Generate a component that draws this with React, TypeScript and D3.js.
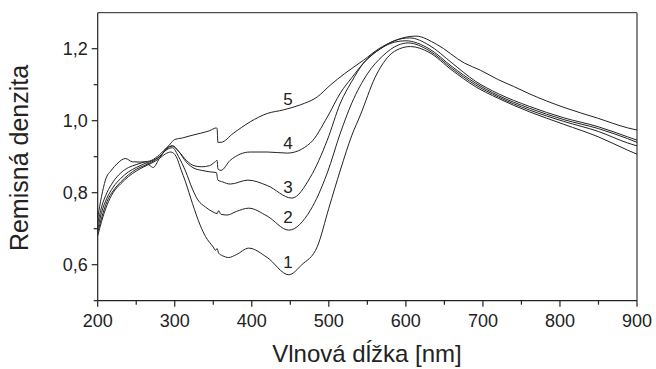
import React from "react";
import * as d3 from "d3";

const xTicks = [200, 300, 400, 500, 600, 700, 800, 900];
const xMinorTicks = [250, 350, 450, 550, 650, 750, 850];
const yTicks = [0.6, 0.8, 1.0, 1.2];
const yMinorTicks = [0.5, 0.7, 0.9, 1.1];
const yTickLabels = ["0,6", "0,8", "1,0", "1,2"];

const wl1 = [200, 205, 212, 220, 230, 240, 250, 260, 270, 280, 288, 295, 302, 308, 314, 323, 333, 340, 350, 353, 355, 357, 362, 370, 380, 396, 420, 448, 465, 485, 500, 515, 530, 541, 560, 578, 592, 606, 630, 660, 690, 720, 760, 805, 850, 888, 900];
const val1 = [0.68, 0.72, 0.765, 0.8, 0.825, 0.845, 0.86, 0.872, 0.882, 0.895, 0.908, 0.913, 0.9, 0.865, 0.83, 0.77, 0.71, 0.678, 0.649, 0.64, 0.645, 0.632, 0.625, 0.62, 0.628, 0.646, 0.62, 0.572, 0.6, 0.65, 0.757, 0.863, 0.96, 1.016, 1.12, 1.18, 1.2, 1.206, 1.19, 1.14, 1.095, 1.062, 1.025, 0.99, 0.955, 0.918, 0.907];

const wl2 = [200, 205, 212, 220, 230, 240, 250, 260, 270, 280, 290, 297, 305, 314, 323, 330, 340, 350, 355, 357, 360, 368, 380, 396, 420, 448, 476, 498, 515, 530, 550, 570, 590, 603, 630, 660, 690, 720, 760, 805, 850, 888, 900];
const val2 = [0.69, 0.73, 0.775, 0.805, 0.83, 0.85, 0.865, 0.875, 0.885, 0.9, 0.92, 0.925, 0.9, 0.86, 0.81, 0.78, 0.76, 0.746, 0.742, 0.75, 0.74, 0.738, 0.748, 0.757, 0.735, 0.696, 0.751, 0.855, 0.966, 1.05, 1.13, 1.18, 1.21, 1.216, 1.195, 1.145, 1.1, 1.066, 1.03, 0.998, 0.97, 0.938, 0.93];

const wl3 = [200, 205, 212, 220, 230, 240, 250, 260, 270, 280, 290, 297, 305, 315, 325, 335, 345, 354, 356, 362, 372, 395, 420, 452, 476, 498, 515, 530, 545, 567, 585, 600, 630, 660, 690, 720, 760, 805, 850, 888, 900];
const val3 = [0.7, 0.745, 0.785, 0.815, 0.84, 0.858, 0.87, 0.88, 0.888, 0.9, 0.922, 0.93, 0.915, 0.885, 0.868, 0.862, 0.858, 0.856, 0.835, 0.83, 0.824, 0.835, 0.82, 0.785, 0.843, 0.946, 1.049, 1.11, 1.16, 1.2, 1.218, 1.222, 1.2, 1.15, 1.105, 1.07, 1.035, 1.003, 0.978, 0.95, 0.94];

const wl4 = [200, 205, 212, 220, 230, 240, 250, 260, 270, 280, 290, 297, 305, 315, 325, 335, 345, 352, 355, 356, 360, 372, 398, 420, 446, 476, 498, 515, 530, 545, 567, 585, 605, 630, 660, 690, 720, 760, 805, 850, 888, 900];
const val4 = [0.715, 0.76, 0.8, 0.83, 0.855, 0.87, 0.878, 0.885, 0.89, 0.905, 0.925, 0.93, 0.915, 0.89, 0.875, 0.872, 0.875, 0.885, 0.89, 0.866, 0.862, 0.89, 0.913, 0.913, 0.91, 0.938, 1.01, 1.077, 1.12, 1.16, 1.2, 1.222, 1.23, 1.21, 1.16, 1.11, 1.075, 1.04, 1.008, 0.983, 0.955, 0.946];

const wl5 = [200, 205, 210, 218, 225, 236, 245, 255, 262, 268, 272, 280, 288, 294, 300, 310, 320, 333, 345, 354, 355, 356, 360, 376, 398, 420, 441, 463, 485, 502, 520, 545, 565, 583, 600, 613, 640, 676, 697, 719, 740, 760, 805, 849, 888, 900];
const val5 = [0.73, 0.79, 0.835, 0.863, 0.88, 0.895, 0.886, 0.885, 0.886, 0.875, 0.87, 0.895, 0.92, 0.935, 0.948, 0.952, 0.958, 0.965, 0.972, 0.98, 0.978, 0.94, 0.94, 0.965, 0.997, 1.02, 1.03, 1.044, 1.066, 1.099, 1.13, 1.168, 1.2, 1.22, 1.232, 1.235, 1.212, 1.16, 1.14, 1.115, 1.095, 1.075, 1.037, 1.007, 0.98, 0.974];

const curveLabels = ["1", "2", "3", "4", "5"];
const labelX = [447, 447, 447, 447, 447];
const labelY = [0.608, 0.733, 0.816, 0.938, 1.06];

const series = [
  { wl: wl1, val: val1 },
  { wl: wl2, val: val2 },
  { wl: wl3, val: val3 },
  { wl: wl4, val: val4 },
  { wl: wl5, val: val5 },
];

const W = 656;
const H = 369;
const L = 97.7, R = 637, T = 12.7, B = 300.7;
const FONT = "'Liberation Sans', Arial, Helvetica, sans-serif";

export default function App() {
  const x = d3.scaleLinear().domain([200, 900]).range([L, R]);
  const y = d3.scaleLinear().domain([0.5, 1.3]).range([B, T]);
  const line = d3
    .line<[number, number]>()
    .x((d) => x(d[0]))
    .y((d) => y(d[1]))
    .curve(d3.curveMonotoneX);

  return (
    <svg
      width={W}
      height={H}
      style={{ position: "absolute", left: 0, top: 0, background: "#fff" }}
      fontFamily={FONT}
    >
      <rect x={0} y={0} width={W} height={H} fill="#fff" />
      {/* frame */}
      <line x1={L} y1={T} x2={R} y2={T} stroke="#222" strokeWidth={1} />
      <line x1={R} y1={T} x2={R} y2={B} stroke="#888" strokeWidth={2} />
      <line x1={L} y1={T} x2={L} y2={B} stroke="#222" strokeWidth={1.2} />
      <line x1={L} y1={B} x2={R} y2={B} stroke="#222" strokeWidth={1.2} />

      {/* x ticks */}
      {xTicks.map((t) => (
        <g key={"xt" + t}>
          <line x1={x(t)} x2={x(t)} y1={B} y2={B + 6} stroke="#222" strokeWidth={1.2} />
          <text x={x(t)} y={B + 26} fontSize={18} textAnchor="middle" fill="#222">
            {t}
          </text>
        </g>
      ))}
      {xMinorTicks.map((t) => (
        <line key={"xm" + t} x1={x(t)} x2={x(t)} y1={B} y2={B + 4} stroke="#222" strokeWidth={1.2} />
      ))}

      {/* y ticks */}
      {yTicks.map((t, i) => (
        <g key={"yt" + t}>
          <line x1={L - 6} x2={L} y1={y(t)} y2={y(t)} stroke="#222" strokeWidth={1.2} />
          <text x={L - 10} y={y(t) + 6} fontSize={18} textAnchor="end" fill="#222">
            {yTickLabels[i]}
          </text>
        </g>
      ))}
      {yMinorTicks.map((t) => (
        <line key={"ym" + t} x1={L - 4} x2={L} y1={y(t)} y2={y(t)} stroke="#222" strokeWidth={1.2} />
      ))}

      {/* curves */}
      {series.map((s, i) => (
        <path
          key={"s" + i}
          d={line(s.wl.map((w, j) => [w, s.val[j]] as [number, number])) || ""}
          fill="none"
          stroke="#222"
          strokeWidth={1}
        />
      ))}

      {/* curve labels */}
      {curveLabels.map((c, i) => (
        <text
          key={"cl" + c}
          x={x(labelX[i])}
          y={y(labelY[i]) + 6}
          fontSize={17}
          textAnchor="middle"
          fill="#222"
        >
          {c}
        </text>
      ))}

      {/* axis titles */}
      <text x={367} y={362} fontSize={24} textAnchor="middle" fill="#222">
        Vlnová dĺžka [nm]
      </text>
      <text
        transform={`translate(28,158) rotate(-90)`}
        fontSize={25}
        textAnchor="middle"
        fill="#222"
      >
        Remisná denzita
      </text>
    </svg>
  );
}
